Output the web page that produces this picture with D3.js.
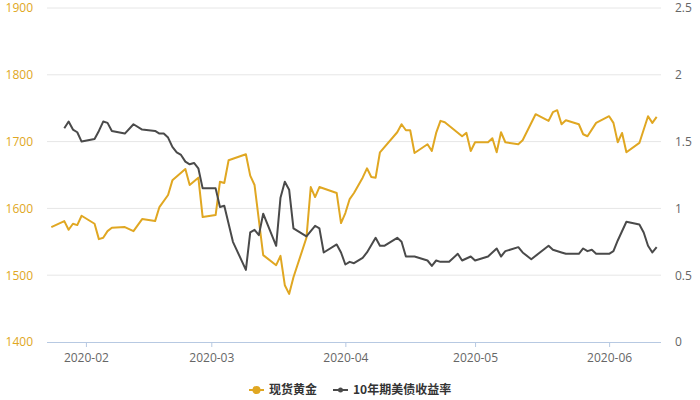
<!DOCTYPE html>
<html>
<head>
<meta charset="utf-8">
<script src="https://cdn.jsdelivr.net/npm/d3@7/dist/d3.min.js"></script>
<style>
  html, body { margin: 0; padding: 0; background: #fff; }
  svg { display: block; font-family: "Noto Sans CJK SC", "Noto Sans", sans-serif; }
</style>
</head>
<body>
<svg id="chart" width="700" height="400"></svg>
<script>
const goldDates = ["2020-01-24","2020-01-27","2020-01-28","2020-01-29","2020-01-30","2020-01-31","2020-02-03","2020-02-04","2020-02-05","2020-02-06","2020-02-07","2020-02-10","2020-02-12","2020-02-14","2020-02-17","2020-02-18","2020-02-20","2020-02-21","2020-02-24","2020-02-25","2020-02-27","2020-02-28","2020-03-02","2020-03-03","2020-03-04","2020-03-05","2020-03-09","2020-03-10","2020-03-11","2020-03-13","2020-03-16","2020-03-17","2020-03-18","2020-03-19","2020-03-20","2020-03-23","2020-03-24","2020-03-25","2020-03-26","2020-03-30","2020-03-31","2020-04-01","2020-04-02","2020-04-03","2020-04-05","2020-04-06","2020-04-07","2020-04-08","2020-04-09","2020-04-13","2020-04-14","2020-04-15","2020-04-16","2020-04-17","2020-04-20","2020-04-21","2020-04-22","2020-04-23","2020-04-24","2020-04-28","2020-04-29","2020-04-30","2020-05-01","2020-05-04","2020-05-05","2020-05-06","2020-05-07","2020-05-08","2020-05-11","2020-05-12","2020-05-15","2020-05-18","2020-05-19","2020-05-20","2020-05-21","2020-05-22","2020-05-25","2020-05-26","2020-05-27","2020-05-29","2020-06-01","2020-06-02","2020-06-03","2020-06-04","2020-06-05","2020-06-08","2020-06-10","2020-06-11","2020-06-12"];
const goldValues = [1572,1581,1568,1577,1575,1589,1577,1554,1556,1566,1571,1572,1566,1584,1581,1602,1620,1642,1659,1635,1646,1587,1590,1640,1638,1672,1681,1649,1635,1530,1515,1529,1485,1472,1497,1556,1632,1617,1632,1623,1578,1593,1614,1623,1646,1660,1647,1646,1684,1714,1726,1717,1717,1683,1696,1686,1713,1731,1729,1708,1713,1686,1699,1699,1705,1684,1714,1699,1696,1702,1741,1731,1744,1747,1726,1732,1726,1711,1708,1728,1738,1728,1699,1713,1684,1698,1738,1728,1737];

const yieldDates = ["2020-01-27","2020-01-28","2020-01-29","2020-01-30","2020-01-31","2020-02-03","2020-02-04","2020-02-05","2020-02-06","2020-02-07","2020-02-10","2020-02-12","2020-02-14","2020-02-17","2020-02-18","2020-02-19","2020-02-20","2020-02-21","2020-02-22","2020-02-23","2020-02-24","2020-02-25","2020-02-26","2020-02-27","2020-02-28","2020-03-02","2020-03-03","2020-03-04","2020-03-06","2020-03-09","2020-03-10","2020-03-11","2020-03-12","2020-03-13","2020-03-16","2020-03-17","2020-03-18","2020-03-19","2020-03-20","2020-03-23","2020-03-25","2020-03-26","2020-03-27","2020-03-30","2020-03-31","2020-04-01","2020-04-02","2020-04-03","2020-04-05","2020-04-06","2020-04-08","2020-04-09","2020-04-10","2020-04-13","2020-04-14","2020-04-15","2020-04-16","2020-04-17","2020-04-20","2020-04-21","2020-04-22","2020-04-23","2020-04-25","2020-04-27","2020-04-28","2020-04-30","2020-05-01","2020-05-04","2020-05-06","2020-05-07","2020-05-08","2020-05-11","2020-05-12","2020-05-14","2020-05-18","2020-05-19","2020-05-21","2020-05-22","2020-05-25","2020-05-26","2020-05-27","2020-05-28","2020-05-29","2020-06-01","2020-06-02","2020-06-03","2020-06-05","2020-06-08","2020-06-09","2020-06-10","2020-06-11","2020-06-12"];
const yieldValues = [1.60,1.65,1.59,1.57,1.50,1.52,1.58,1.65,1.64,1.58,1.56,1.63,1.59,1.58,1.56,1.56,1.53,1.46,1.42,1.40,1.35,1.33,1.34,1.30,1.15,1.15,1.01,1.02,0.75,0.54,0.82,0.84,0.80,0.96,0.72,1.08,1.20,1.14,0.85,0.79,0.87,0.85,0.67,0.73,0.67,0.58,0.60,0.59,0.63,0.67,0.78,0.72,0.72,0.78,0.75,0.64,0.64,0.64,0.61,0.57,0.61,0.60,0.60,0.66,0.61,0.64,0.61,0.64,0.70,0.64,0.68,0.71,0.67,0.62,0.72,0.69,0.67,0.66,0.66,0.70,0.68,0.69,0.66,0.66,0.68,0.76,0.90,0.88,0.82,0.72,0.67,0.71];

const leftTicks = [1400,1500,1600,1700,1800,1900];
const rightTicks = [0,0.5,1,1.5,2,2.5];
const xTickDates = ["2020-02-01","2020-03-01","2020-04-01","2020-05-01","2020-06-01"];
const seriesNames = ["现货黄金","10年期美债收益率"];
const xDomain = ["2020-01-23","2020-06-13"];

const parse = d3.timeParse("%Y-%m-%d");
const goldColor = "#e0a722";
const yieldColor = "#4a4a4a";

const svg = d3.select("#chart");
const m = {left: 47, right: 39, top: 8, bottom: 58};
const W = 700, H = 400;

const x = d3.scaleTime().domain(xDomain.map(parse)).range([m.left, W - m.right]);
const yL = d3.scaleLinear().domain([1400,1900]).range([H - m.bottom, m.top]);
const yR = d3.scaleLinear().domain([0,2.5]).range([H - m.bottom, m.top]);

// gridlines
svg.append("g").selectAll("line").data(leftTicks.filter(t => t !== 1400)).join("line")
  .attr("x1", m.left).attr("x2", W - m.right)
  .attr("y1", d => yL(d)).attr("y2", d => yL(d))
  .attr("stroke", "#e6e6e6").attr("stroke-width", 1);

// left axis
const gL = svg.append("g").attr("transform", `translate(${m.left},0)`)
  .call(d3.axisLeft(yL).tickValues(leftTicks).tickSize(0).tickPadding(14).tickFormat(d3.format("d")));
gL.select(".domain").remove();
gL.selectAll("text").attr("fill", goldColor).style("font-size", "12px").style("font-family", "'Open Sans', 'Noto Sans', sans-serif");

// right axis
const gR = svg.append("g").attr("transform", `translate(${W - m.right},0)`)
  .call(d3.axisRight(yR).tickValues(rightTicks).tickSize(0).tickPadding(14).tickFormat(d => String(d)));
gR.select(".domain").remove();
gR.selectAll("text").attr("fill", "#666").style("font-size", "12px").style("font-family", "'Open Sans', 'Noto Sans', sans-serif");

// x axis
const gX = svg.append("g").attr("transform", `translate(0,${H - m.bottom})`)
  .call(d3.axisBottom(x).tickValues(xTickDates.map(parse)).tickSize(5).tickPadding(6).tickFormat(d3.timeFormat("%Y-%m")));
gX.select(".domain").attr("stroke", "#b7c9e2").attr("d", `M${m.left},0.5H${W - m.right}`);
gX.selectAll(".tick line").attr("stroke", "#b7c9e2");
gX.selectAll("text").attr("fill", "#666").style("font-size", "12px").style("font-family", "'Open Sans', 'Noto Sans', sans-serif");

// lines
const goldData = goldDates.map((d, i) => ({d: parse(d), v: goldValues[i]}));
const yieldData = yieldDates.map((d, i) => ({d: parse(d), v: yieldValues[i]}));

svg.append("path").datum(goldData)
  .attr("fill", "none").attr("stroke", goldColor).attr("stroke-width", 2).attr("stroke-linejoin", "round")
  .attr("d", d3.line().x(p => x(p.d)).y(p => yL(p.v)));

svg.append("path").datum(yieldData)
  .attr("fill", "none").attr("stroke", yieldColor).attr("stroke-width", 2).attr("stroke-linejoin", "round")
  .attr("d", d3.line().x(p => x(p.d)).y(p => yR(p.v)));

// legend
const lg = svg.append("g").attr("transform", "translate(0,390)");
const items = [
  {name: seriesNames[0], color: goldColor, x0: 249, r: 4},
  {name: seriesNames[1], color: yieldColor, x0: 333, r: 2.5}
];
items.forEach(it => {
  lg.append("line").attr("x1", it.x0).attr("x2", it.x0 + 15).attr("y1", 0).attr("y2", 0)
    .attr("stroke", it.color).attr("stroke-width", 2);
  lg.append("circle").attr("cx", it.x0 + 7.5).attr("cy", 0).attr("r", it.r).attr("fill", it.color);
  lg.append("text").attr("x", it.x0 + 20).attr("y", 0).attr("dy", "0.35em")
    .attr("fill", "#333").style("font-size", "12px").style("font-weight", "bold").text(it.name);
});
</script>
</body>
</html>
